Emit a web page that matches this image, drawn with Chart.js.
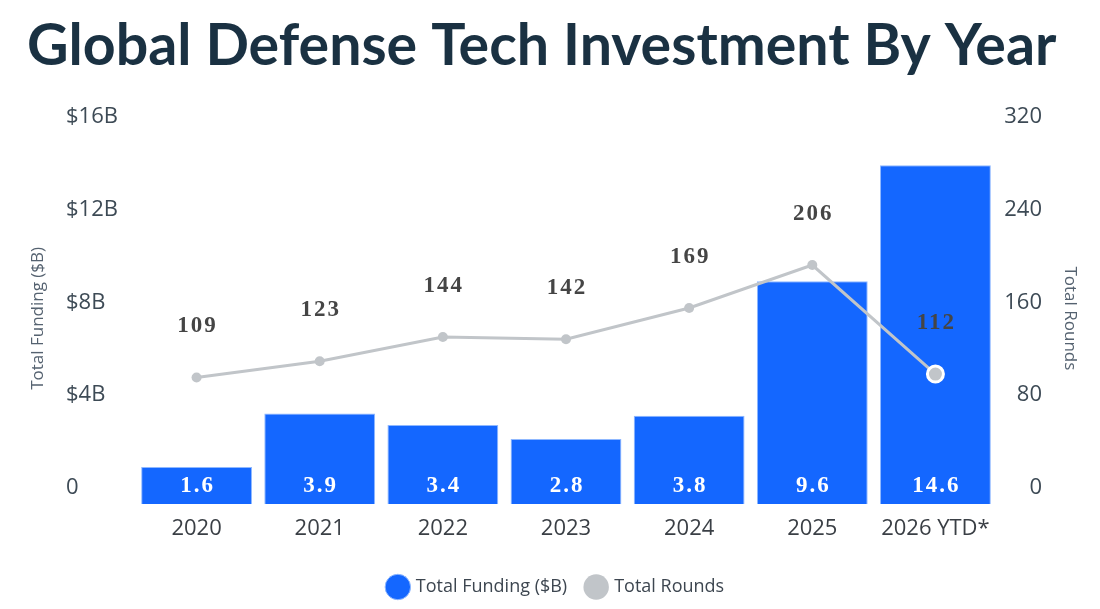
<!DOCTYPE html>
<html>
<head>
<meta charset="utf-8">
<script src="https://cdn.jsdelivr.net/npm/chart.js@4.4.1/dist/chart.umd.min.js"></script>
<style>
  html, body { margin: 0; padding: 0; background: #ffffff; }
  #wrap { width: 1100px; height: 609px; position: relative; }
</style>
</head>
<body>
<div id="wrap"><canvas id="c" width="1100" height="609"></canvas></div>
<script>
const categories = ['2020', '2021', '2022', '2023', '2024', '2025', '2026 YTD*'];
const fundingB = [1.6, 3.9, 3.4, 2.8, 3.8, 9.6, 14.6];
const rounds = [109, 123, 144, 142, 169, 206, 112];
const fundingTicks = [0, 4, 8, 12, 16];
const roundsTicks = [0, 80, 160, 240, 320];

const BLUE = '#1467ff';
const GRAY = '#c1c5c9';

const valueLabels = {
  id: 'valueLabels',
  afterDatasetsDraw(chart) {
    const ctx = chart.ctx;
    ctx.save();
    ctx.font = 'bold 23px "Liberation Serif", "DejaVu Serif", serif';
    if ('letterSpacing' in ctx) ctx.letterSpacing = '2px';
    ctx.textAlign = 'center';
    ctx.textBaseline = 'middle';
    const barMeta = chart.getDatasetMeta(0);
    barMeta.data.forEach((el, i) => {
      ctx.fillStyle = '#ffffff';
      ctx.fillText(fundingB[i].toFixed(1), el.x + 1, el.base - 18);
    });
    const lineMeta = chart.getDatasetMeta(1);
    lineMeta.data.forEach((el, i) => {
      ctx.fillStyle = '#454545';
      ctx.fillText(String(rounds[i]), el.x + 1, el.y - 51);
    });
    ctx.restore();
  }
};

new Chart(document.getElementById('c'), {
  data: {
    labels: categories,
    datasets: [
      {
        type: 'bar',
        label: 'Total Funding ($B)',
        data: fundingB,
        yAxisID: 'y',
        backgroundColor: BLUE,
        borderColor: '#8fb8ff',
        borderWidth: 1,
        barPercentage: 0.9,
        categoryPercentage: 1.0,
        order: 1
      },
      {
        type: 'line',
        label: 'Total Rounds',
        data: rounds,
        yAxisID: 'y1',
        borderColor: GRAY,
        backgroundColor: GRAY,
        borderWidth: 3,
        pointRadius: [5, 5, 5, 5, 5, 5, 8],
        pointBorderWidth: [0, 0, 0, 0, 0, 0, 3],
        pointBorderColor: ['#c1c5c9', '#c1c5c9', '#c1c5c9', '#c1c5c9', '#c1c5c9', '#c1c5c9', '#ffffff'],
        pointBackgroundColor: GRAY,
        tension: 0,
        order: 0
      }
    ]
  },
  options: {
    responsive: false,
    animation: false,
    devicePixelRatio: 1,
    layout: { padding: { left: 27, right: 14, top: 0, bottom: 3 } },
    plugins: {
      tooltip: { enabled: false },
      title: {
        display: true,
        align: 'start',
        text: 'Global Defense Tech Investment By Year',
        color: '#1a3142',
        font: { family: 'Lato', size: 57.3, weight: 'bold' },
        padding: { top: 12, bottom: 52 }
      },
      legend: {
        position: 'bottom',
        labels: {
          usePointStyle: true,
          pointStyle: 'circle',
          boxWidth: 18,
          boxHeight: 18,
          color: '#3d4650',
          font: { family: 'Open Sans', size: 18 },
          padding: 20,
          sort: (a, b) => a.datasetIndex - b.datasetIndex
        }
      }
    },
    scales: {
      x: {
        grid: { display: false, drawTicks: false },
        border: { display: false },
        ticks: { color: '#3a3f45', font: { family: 'Open Sans', size: 22 }, padding: 12 },
        afterFit(s) { s.height = 54; }
      },
      yTitle: {
        position: 'left',
        weight: 2,
        min: 0, max: 1,
        grid: { display: false, drawTicks: false },
        border: { display: false },
        ticks: { display: false },
        title: { display: true, text: 'Total Funding ($B)', color: '#556270', font: { family: 'Open Sans', size: 17 }, padding: { top: 1, bottom: 0 } },
        afterFit(s) { s.width = 39; }
      },
      y: {
        position: 'left',
        weight: 1,
        min: 0, max: 16,
        afterBuildTicks(s) { s.ticks = fundingTicks.map(v => ({ value: v })); },
        grid: { display: false, drawTicks: false },
        border: { display: false },
        ticks: {
          crossAlign: 'far',
          labelOffset: -16,
          color: '#3d4a55',
          font: { family: 'Open Sans', size: 22 },
          callback: v => v === 0 ? '0' : '$' + v + 'B'
        },
        afterFit(s) { s.width = 69; }
      },
      y1: {
        position: 'right',
        weight: 1,
        min: 0, max: 320,
        afterBuildTicks(s) { s.ticks = roundsTicks.map(v => ({ value: v })); },
        grid: { display: false, drawTicks: false },
        border: { display: false },
        ticks: {
          crossAlign: 'far',
          labelOffset: -16,
          color: '#3d4a55',
          font: { family: 'Open Sans', size: 22 }
        },
        afterFit(s) { s.width = 45; }
      },
      y1Title: {
        position: 'right',
        weight: 2,
        min: 0, max: 1,
        grid: { display: false, drawTicks: false },
        border: { display: false },
        ticks: { display: false },
        title: { display: true, text: 'Total Rounds', color: '#556270', font: { family: 'Open Sans', size: 17 }, padding: { top: 6, bottom: 0 } },
        afterFit(s) { s.width = 44; }
      }
    }
  },
  plugins: [valueLabels]
});
</script>
</body>
</html>
